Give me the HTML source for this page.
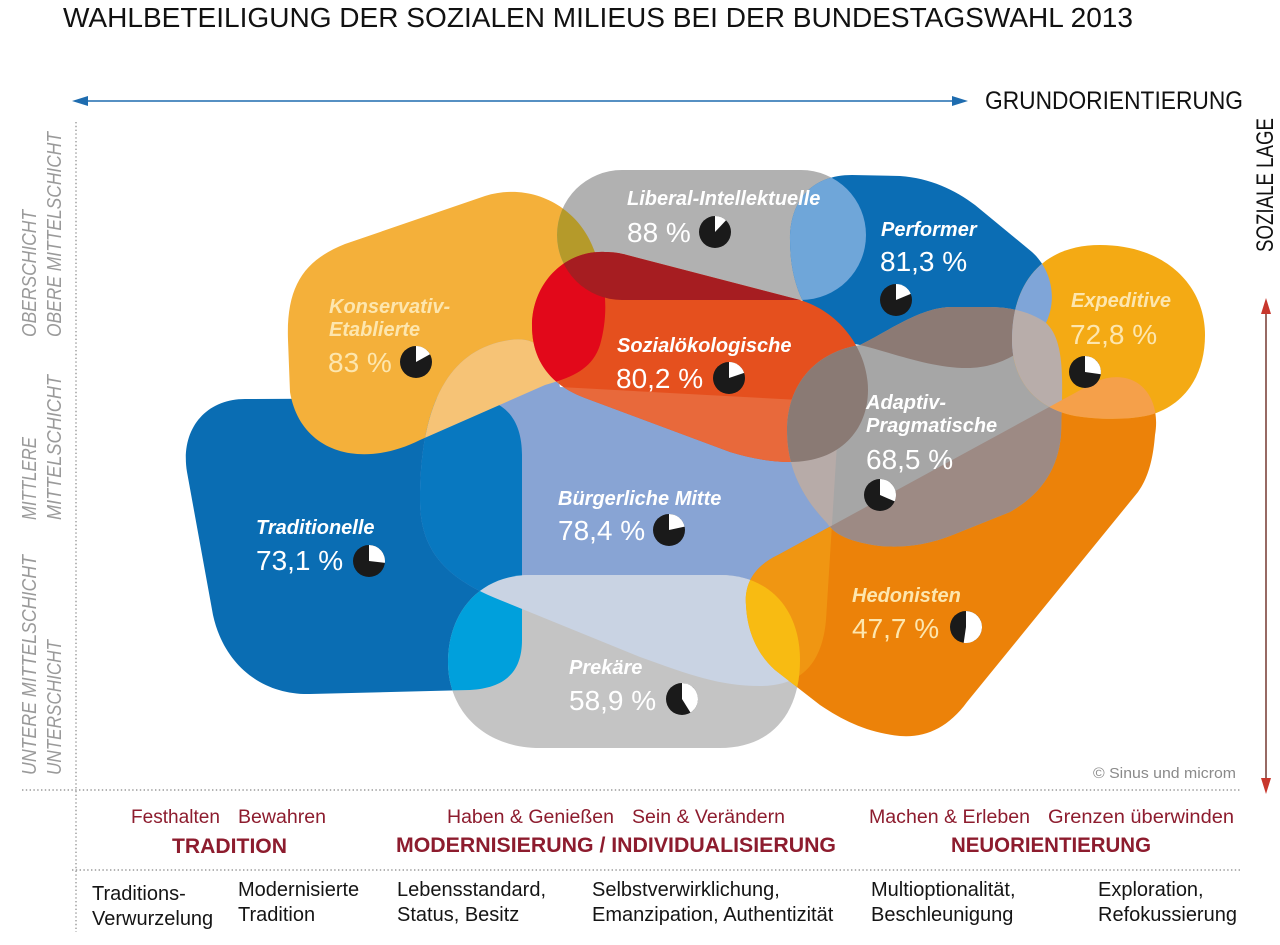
<!DOCTYPE html>
<html><head><meta charset="utf-8">
<style>
html,body{margin:0;padding:0;background:#fff;}
svg{display:block;}
text{font-family:"Liberation Sans",sans-serif;}
.nm{font-weight:bold;font-style:italic;font-size:20px;fill:#fff;}
.pc{font-size:28px;fill:#fff;}
.ny{fill:#fde6ae;}
.ax{font-style:italic;font-size:20px;fill:#9a9a9a;}
.rd{font-size:19px;fill:#8d1c2e;}
.rb{font-size:21px;font-weight:bold;fill:#8d1c2e;}
.bk{font-size:20px;fill:#151515;}
</style></head>
<body>
<svg width="1280" height="945" viewBox="0 0 1280 945" xmlns="http://www.w3.org/2000/svg">
<defs>
<path id="T" d="M245,399 L470,398 C505,398 522,420 522,455 L522,640 C522,672 505,688 470,690 L310,694 C262,695 224,665 213,615 L187,472 C180,430 205,399 245,399 Z"/>
<path id="K" d="M288,340 C286,285 305,260 345,244 L485,196 C530,182 575,205 592,245 C605,275 610,310 600,345 C592,370 570,378 545,385 L420,440 C360,470 300,452 290,392 Z"/>
<path id="B" d="M420,500 C420,420 440,350 510,340 C538,336 552,352 560,387 L800,400 C830,402 840,412 838,428 L826,620 C822,665 800,686 760,686 C720,686 690,675 640,657 L500,600 C445,578 420,550 420,500 Z"/>
<path id="P" d="M530,575 L720,575 C770,575 800,610 800,660 C800,715 770,748 720,748 L540,748 C485,748 448,712 448,662 C448,612 480,575 530,575 Z"/>
<path id="H" d="M746,605 C744,583 755,566 778,555 L1095,382 C1135,365 1162,395 1155,435 C1153,460 1148,478 1138,492 L967,702 C948,728 925,738 900,736 C870,733 845,722 820,705 L775,670 C755,652 747,628 746,605 Z"/>
<path id="L" d="M622,170 L801,170 A65,65 0 0 1 801,300 L622,300 A65,65 0 0 1 622,170 Z"/>
<path id="F" d="M790,240 C790,200 812,175 852,175 L900,176 C930,178 955,190 975,205 L1032,252 C1052,270 1058,300 1045,325 C1030,350 1000,368 967,368 C930,368 890,352 860,345 C815,338 790,295 790,240 Z"/>
<path id="S" d="M627,255 L800,300 C840,312 868,350 868,390 C868,430 840,462 790,462 C770,462 750,458 730,452 L585,398 C550,385 532,360 532,326 C532,283 565,250 605,252 C613,252 620,253 627,255 Z"/>
<path id="A" d="M787,430 C787,385 815,352 860,345 C890,330 920,308 950,307 L990,307 C1010,307 1030,312 1045,322 C1060,335 1063,360 1062,400 L1061,435 C1058,470 1040,495 1010,512 L960,532 C930,545 905,548 880,546 C850,542 835,535 827,523 C800,495 787,465 787,430 Z"/>
<path id="E" d="M1012,340 C1012,280 1045,245 1100,245 C1165,245 1205,285 1205,335 C1205,375 1185,405 1150,415 C1130,420 1100,420 1075,416 C1035,408 1012,380 1012,340 Z"/>
<clipPath id="cT"><use href="#T"/></clipPath>
<clipPath id="cK"><use href="#K"/></clipPath>
<clipPath id="cB"><use href="#B"/></clipPath>
<clipPath id="cP"><use href="#P"/></clipPath>
<clipPath id="cH"><use href="#H"/></clipPath>
<clipPath id="cL"><use href="#L"/></clipPath>
<clipPath id="cF"><use href="#F"/></clipPath>
<clipPath id="cS"><use href="#S"/></clipPath>
<clipPath id="cA"><use href="#A"/></clipPath>
<clipPath id="cE"><use href="#E"/></clipPath>
</defs>

<!-- title -->
<text x="63" y="27" font-size="28" fill="#111" textLength="1070" lengthAdjust="spacingAndGlyphs">WAHLBETEILIGUNG DER SOZIALEN MILIEUS BEI DER BUNDESTAGSWAHL 2013</text>

<!-- horizontal axis arrow -->
<line x1="82" y1="101" x2="958" y2="101" stroke="#1e6caf" stroke-width="1.4"/>
<polygon points="72,101 88,96 88,106" fill="#1e6caf"/>
<polygon points="968,101 952,96 952,106" fill="#1e6caf"/>
<text x="985" y="109" font-size="25" fill="#111" textLength="258" lengthAdjust="spacingAndGlyphs">GRUNDORIENTIERUNG</text>

<!-- vertical axis -->
<text transform="translate(1273,252) rotate(-90)" font-size="24" fill="#111" textLength="134" lengthAdjust="spacingAndGlyphs">SOZIALE LAGE</text>
<line x1="1266" y1="310" x2="1266" y2="782" stroke="#6b2a22" stroke-width="1.4"/>
<polygon points="1266,298 1261,314 1271,314" fill="#c8372d"/>
<polygon points="1266,794 1261,778 1271,778" fill="#c8372d"/>

<!-- dotted lines -->
<line x1="76" y1="122" x2="76" y2="932" stroke="#9a9a9a" stroke-width="1.4" stroke-dasharray="1.4,2.4"/>
<line x1="22" y1="790" x2="1240" y2="790" stroke="#9a9a9a" stroke-width="1.4" stroke-dasharray="1.4,2.4"/>
<line x1="72" y1="870" x2="1240" y2="870" stroke="#9a9a9a" stroke-width="1.4" stroke-dasharray="1.4,2.4"/>

<!-- left labels -->
<text class="ax" transform="translate(36,337) rotate(-90)" textLength="127" lengthAdjust="spacingAndGlyphs">OBERSCHICHT</text>
<text class="ax" transform="translate(61,337) rotate(-90)" textLength="205" lengthAdjust="spacingAndGlyphs">OBERE MITTELSCHICHT</text>
<text class="ax" transform="translate(36,520) rotate(-90)" textLength="83" lengthAdjust="spacingAndGlyphs">MITTLERE</text>
<text class="ax" transform="translate(61,520) rotate(-90)" textLength="145" lengthAdjust="spacingAndGlyphs">MITTELSCHICHT</text>
<text class="ax" transform="translate(36,775) rotate(-90)" textLength="220" lengthAdjust="spacingAndGlyphs">UNTERE MITTELSCHICHT</text>
<text class="ax" transform="translate(61,775) rotate(-90)" textLength="135" lengthAdjust="spacingAndGlyphs">UNTERSCHICHT</text>

<!-- base shapes -->
<use href="#T" fill="#0a6db3"/>
<use href="#K" fill="#f4b03a"/>
<use href="#B" fill="#88a4d4"/>
<use href="#P" fill="#c4c4c4"/>
<use href="#H" fill="#ec8209"/>
<use href="#L" fill="#b1b1b1"/>
<use href="#F" fill="#0b6db4"/>
<use href="#S" fill="#e5501e"/>
<use href="#A" fill="#a6a6a6"/>
<use href="#E" fill="#f4aa14"/>

<!-- overlaps -->
<g clip-path="url(#cB)"><use href="#T" fill="#0878c0"/></g>
<g clip-path="url(#cP)"><use href="#T" fill="#00a0dc"/></g>
<g clip-path="url(#cP)"><use href="#B" fill="#c9d3e3"/></g>
<g clip-path="url(#cB)"><use href="#K" fill="#f6c376"/></g>
<g clip-path="url(#cL)"><use href="#K" fill="#b59a2a"/></g>
<g clip-path="url(#cB)"><use href="#H" fill="#f09612"/></g>
<g clip-path="url(#cP)"><use href="#H" fill="#f8bb12"/></g>
<g clip-path="url(#cB)"><use href="#S" fill="#e8693b"/></g>
<g clip-path="url(#cK)"><use href="#S" fill="#e2081a"/></g>
<g clip-path="url(#cL)"><use href="#S" fill="#a61d21"/></g>
<g clip-path="url(#cF)"><use href="#L" fill="#6fa6d9"/></g>
<g clip-path="url(#cB)"><use href="#A" fill="#b7aba8"/></g>
<g clip-path="url(#cH)"><use href="#A" fill="#9d8a84"/></g>
<g clip-path="url(#cF)"><use href="#A" fill="#8c7a74"/></g>
<g clip-path="url(#cS)"><use href="#A" fill="#8a7a74"/></g>
<g clip-path="url(#cF)"><use href="#E" fill="#7fa5d8"/></g>
<g clip-path="url(#cA)"><use href="#E" fill="#b8adaa"/></g>
<g clip-path="url(#cH)"><use href="#E" fill="#f5a04a"/></g>

<!-- labels -->
<text class="nm ny" x="329" y="313">Konservativ-</text>
<text class="nm ny" x="329" y="336">Etablierte</text>
<text class="pc ny" x="328" y="372">83 %</text>

<text class="nm" x="627" y="205">Liberal-Intellektuelle</text>
<text class="pc" x="627" y="242">88 %</text>

<text class="nm" x="881" y="236">Performer</text>
<text class="pc" x="880" y="271">81,3 %</text>

<text class="nm ny" x="1071" y="307">Expeditive</text>
<text class="pc ny" x="1070" y="344">72,8 %</text>

<text class="nm" x="617" y="352">Sozialökologische</text>
<text class="pc" x="616" y="388">80,2 %</text>

<text class="nm" x="866" y="409">Adaptiv-</text>
<text class="nm" x="866" y="432">Pragmatische</text>
<text class="pc" x="866" y="469">68,5 %</text>

<text class="nm" x="558" y="505">Bürgerliche Mitte</text>
<text class="pc" x="558" y="540">78,4 %</text>

<text class="nm" x="256" y="534">Traditionelle</text>
<text class="pc" x="256" y="570">73,1 %</text>

<text class="nm ny" x="852" y="602">Hedonisten</text>
<text class="pc ny" x="852" y="638">47,7 %</text>

<text class="nm" x="569" y="674">Prekäre</text>
<text class="pc" x="569" y="710">58,9 %</text>

<!-- pies -->
<g fill="#1a1a1a"><circle cx="416" cy="362" r="16"/><circle cx="715" cy="232" r="16"/><circle cx="896" cy="300" r="16"/><circle cx="1085" cy="372" r="16"/><circle cx="729" cy="378" r="16"/><circle cx="880" cy="495" r="16"/><circle cx="669" cy="530" r="16"/><circle cx="369" cy="561" r="16"/><circle cx="966" cy="627" r="16"/><circle cx="682" cy="699" r="16"/></g>
<g fill="#fff">
<path d="M416,362 L416,346 A16,16 0 0 1 430.02,354.29 Z"/>
<path d="M715,232 L715,216 A16,16 0 0 1 725.95,220.34 Z"/>
<path d="M896,300 L896,284 A16,16 0 0 1 910.76,293.83 Z"/>
<path d="M1085,372 L1085,356 A16,16 0 0 1 1100.85,374.2 Z"/>
<path d="M729,378 L729,362 A16,16 0 0 1 744.16,372.87 Z"/>
<path d="M880,495 L880,479 A16,16 0 0 1 894.68,501.35 Z"/>
<path d="M669,530 L669,514 A16,16 0 0 1 684.64,526.62 Z"/>
<path d="M369,561 L369,545 A16,16 0 0 1 384.89,562.89 Z"/>
<path d="M966,627 L966,611 A16,16 0 1 1 963.69,642.83 Z"/>
<path d="M682,699 L682,683 A16,16 0 0 1 690.48,712.57 Z"/>
</g>

<text x="1093" y="778" font-size="15" fill="#8a8a8a" textLength="143" lengthAdjust="spacingAndGlyphs">© Sinus und microm</text>

<!-- bottom legend -->
<text class="rd" x="131" y="823" textLength="89" lengthAdjust="spacingAndGlyphs">Festhalten</text>
<text class="rd" x="238" y="823" textLength="88" lengthAdjust="spacingAndGlyphs">Bewahren</text>
<text class="rd" x="447" y="823" textLength="167" lengthAdjust="spacingAndGlyphs">Haben &amp; Genießen</text>
<text class="rd" x="632" y="823" textLength="153" lengthAdjust="spacingAndGlyphs">Sein &amp; Verändern</text>
<text class="rd" x="869" y="823" textLength="161" lengthAdjust="spacingAndGlyphs">Machen &amp; Erleben</text>
<text class="rd" x="1048" y="823" textLength="186" lengthAdjust="spacingAndGlyphs">Grenzen überwinden</text>

<text class="rb" x="172" y="853" textLength="115" lengthAdjust="spacingAndGlyphs">TRADITION</text>
<text class="rb" x="396" y="852" textLength="440" lengthAdjust="spacingAndGlyphs">MODERNISIERUNG / INDIVIDUALISIERUNG</text>
<text class="rb" x="951" y="852" textLength="200" lengthAdjust="spacingAndGlyphs">NEUORIENTIERUNG</text>

<text class="bk" x="92" y="900">Traditions-</text>
<text class="bk" x="92" y="925">Verwurzelung</text>
<text class="bk" x="238" y="896">Modernisierte</text>
<text class="bk" x="238" y="921">Tradition</text>
<text class="bk" x="397" y="896">Lebensstandard,</text>
<text class="bk" x="397" y="921">Status, Besitz</text>
<text class="bk" x="592" y="896">Selbstverwirklichung,</text>
<text class="bk" x="592" y="921">Emanzipation, Authentizität</text>
<text class="bk" x="871" y="896">Multioptionalität,</text>
<text class="bk" x="871" y="921">Beschleunigung</text>
<text class="bk" x="1098" y="896">Exploration,</text>
<text class="bk" x="1098" y="921">Refokussierung</text>
</svg>
</body></html>
